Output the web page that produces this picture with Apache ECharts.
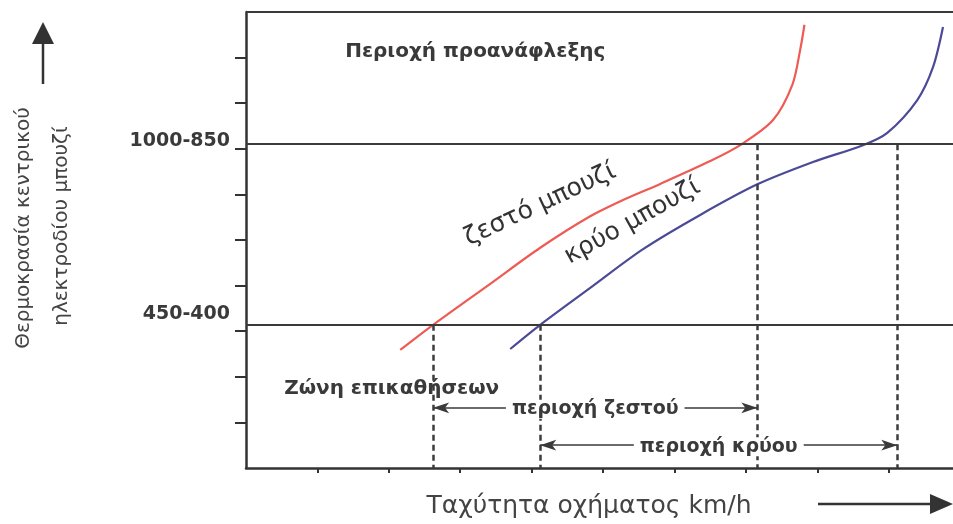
<!DOCTYPE html>
<html>
<head>
<meta charset="utf-8">
<script src="https://cdn.jsdelivr.net/npm/echarts@6/dist/echarts.min.js"></script>
<style>
  html, body { margin: 0; padding: 0; background: #fff; }
  #chart { width: 953px; height: 524px; }
</style>
</head>
<body>
<div id="chart"></div>
<script>
const hotX = [2.16, 2.62, 3.42, 4.12, 4.82, 5.31, 5.80, 6.50, 6.92, 7.38, 7.65, 7.76, 7.82];
const hotY = [2.59, 3.14, 4.04, 4.83, 5.52, 5.90, 6.23, 6.73, 7.08, 7.63, 8.40, 9.17, 9.72];
const coldX = [3.70, 4.12, 4.82, 5.56, 6.36, 7.16, 7.94, 8.64, 8.98, 9.40, 9.62, 9.76];
const coldY = [2.61, 3.14, 3.95, 4.80, 5.55, 6.22, 6.71, 7.08, 7.35, 8.07, 8.79, 9.67];

// temperature levels and their labels
const levelValues = [3.14, 7.1];
const levelLabelPos = [3.38, 7.17];
const levelLabels = ['450-400', '1000-850'];

// speed ranges of each plug
const hotRange = [2.62, 7.16];
const coldRange = [4.12, 9.12];
const rangeRows = [1.32, 0.5];
const rangeLabels = ['περιοχή ζεστού', 'περιοχή κρύου'];

const tickValues = [1, 2, 3, 4, 5, 6, 7, 8, 9];

const axisColor = '#333';
const textColor = '#3a3a3a';
const boldText = { fontFamily: 'DejaVu Sans', fontWeight: 'bold', fontSize: 20, color: textColor };

let chart = echarts.init(document.getElementById('chart'));

const dashed = { type: [6, 4], width: 2.5, color: '#3c3c3c' };
const solid = { type: 'solid', width: 2, color: '#3a3a3a' };

let lines = levelValues.map(v => ({ yAxis: v, lineStyle: solid }));
lines.push({ yAxis: 10, lineStyle: solid });
[[hotRange[0], levelValues[0]], [coldRange[0], levelValues[0]],
 [hotRange[1], levelValues[1]], [coldRange[1], levelValues[1]]].forEach(p => {
  lines.push([{ coord: [p[0], p[1]], lineStyle: dashed }, { coord: [p[0], 0] }]);
});
[hotRange, coldRange].forEach((r, i) => {
  lines.push([
    {
      coord: [r[0], rangeRows[i]], symbol: 'arrow',
      lineStyle: { type: 'solid', width: 1.6, color: '#3a3a3a' },
      label: Object.assign({
        show: true, position: 'middle', distance: -11, formatter: rangeLabels[i],
        backgroundColor: '#fff', padding: [0, 6]
      }, boldText, { fontSize: 19 })
    },
    { coord: [r[1], rangeRows[i]], symbol: 'arrow' }
  ]);
});

const curveText = { fontFamily: 'DejaVu Sans', fontSize: 25, color: '#333' };

let options = {
  animation: false,
  grid: { left: 246, right: 0, top: 12, bottom: 56 },
  xAxis: {
    type: 'value', min: 0, max: 9.9, interval: 1,
    axisLine: { show: true, lineStyle: { color: axisColor, width: 2.5 } },
    axisTick: { show: true, length: 5, customValues: tickValues, lineStyle: { color: axisColor, width: 2 } },
    axisLabel: { show: false },
    splitLine: { show: false }
  },
  yAxis: {
    type: 'value', min: 0, max: 10, interval: 1,
    axisLine: { show: true, lineStyle: { color: axisColor, width: 2.5 } },
    axisTick: { show: true, length: 11, customValues: tickValues, lineStyle: { color: axisColor, width: 2 } },
    axisLabel: Object.assign({
      show: true, margin: 16, customValues: levelLabelPos,
      formatter: v => levelLabels[levelLabelPos.indexOf(v)] || ''
    }, boldText, { fontSize: 19 }),
    splitLine: { show: false }
  },
  series: [
    {
      name: 'ζεστό μπουζί', type: 'line', smooth: 0.3, symbol: 'none',
      data: hotX.map((x, i) => [x, hotY[i]]),
      lineStyle: { color: '#ee5b55', width: 2.2 },
      markLine: { silent: true, symbol: 'none', animation: false, label: { show: false }, data: lines }
    },
    {
      name: 'κρύο μπουζί', type: 'line', smooth: 0.3, symbol: 'none',
      data: coldX.map((x, i) => [x, coldY[i]]),
      lineStyle: { color: '#4b4a96', width: 2.2 },
      markPoint: {
        silent: true, symbol: 'circle', symbolSize: 0, animation: false,
        data: [
          { coord: [4.12, 5.77], label: Object.assign({ show: true, formatter: 'ζεστό μπουζί', rotate: 25 }, curveText) },
          { coord: [5.41, 5.40], label: Object.assign({ show: true, formatter: 'κρύο μπουζί', rotate: 29 }, curveText) },
          { coord: [3.21, 9.12], label: Object.assign({ show: true, formatter: 'Περιοχή προανάφλεξης' }, boldText) },
          { coord: [2.04, 1.73], label: Object.assign({ show: true, formatter: 'Ζώνη επικαθήσεων' }, boldText) }
        ]
      }
    }
  ],
  graphic: [
    { type: 'text', x: 24, y: 228, rotation: Math.PI / 2,
      style: { text: 'Θερμοκρασία κεντρικού', font: '20px "DejaVu Sans"', fill: '#444', align: 'center', verticalAlign: 'middle' } },
    { type: 'text', x: 62, y: 226, rotation: Math.PI / 2,
      style: { text: 'ηλεκτροδίου μπουζί', font: '20px "DejaVu Sans"', fill: '#444', align: 'center', verticalAlign: 'middle' } },
    { type: 'line', shape: { x1: 43, y1: 84, x2: 43, y2: 40 }, style: { stroke: '#333', lineWidth: 2.5 } },
    { type: 'polygon', shape: { points: [[32, 44], [54, 44], [43, 22]] }, style: { fill: '#333' } },
    { type: 'text', x: 589, y: 506,
      style: { text: 'Ταχύτητα οχήματος km/h', font: '25px "DejaVu Sans"', fill: '#444', align: 'center', verticalAlign: 'middle' } },
    { type: 'line', shape: { x1: 818, y1: 504, x2: 935, y2: 504 }, style: { stroke: '#333', lineWidth: 2.5 } },
    { type: 'polygon', shape: { points: [[930, 494], [930, 514], [953, 504]] }, style: { fill: '#333' } }
  ]
};

chart.setOption(options, true);
</script>
</body>
</html>
